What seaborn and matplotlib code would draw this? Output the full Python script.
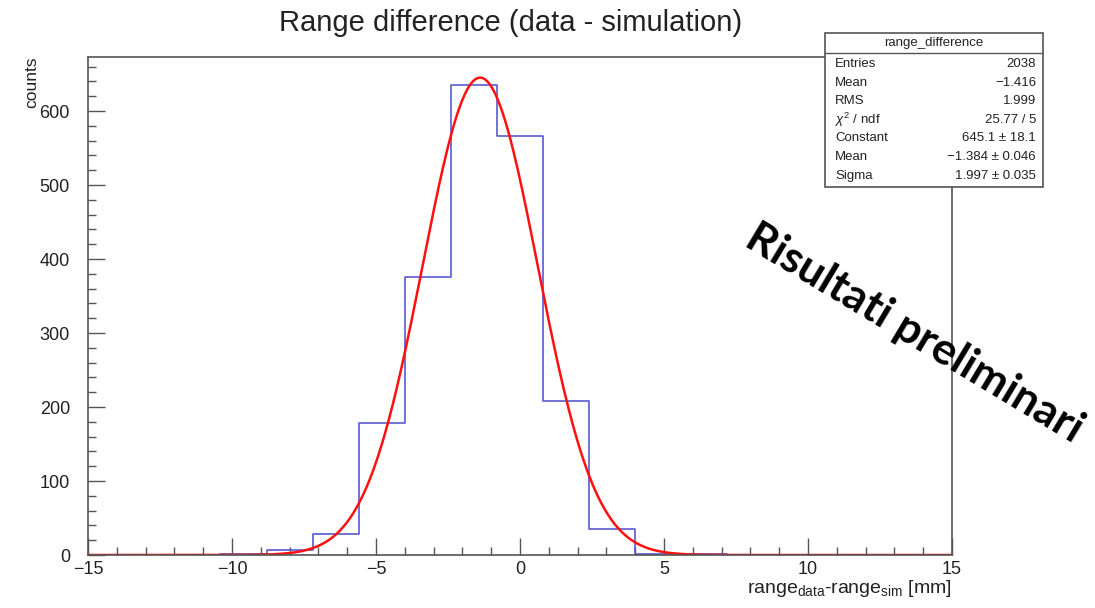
import numpy as np
import pandas as pd
import matplotlib.pyplot as plt
import seaborn as sns
from matplotlib.ticker import MultipleLocator
from matplotlib.patches import Rectangle

# histogram: 19 bins of width 1.6 from -15.2 to 15.2
bin_edges = list(np.round(np.linspace(-15.2, 15.2, 20), 2))
bin_counts = [0, 0, 0, 1, 7, 29, 179, 376, 635, 566, 208, 35, 2, 1, 0, 0, 0, 0, 0]

# gaussian fit parameters (from the stats box)
fit_const = 645.1
fit_mean = -1.384
fit_sigma = 1.997

stats_rows = [
    ("Entries", "2038"),
    ("Mean", "\u22121.416"),
    ("RMS", "1.999"),
    (r"$\chi^{2}$ / ndf", "25.77 / 5"),
    ("Constant", "645.1 \u00b1 18.1"),
    ("Mean", "\u22121.384 \u00b1 0.046"),
    ("Sigma", "1.997 \u00b1 0.035"),
]

sns.set_style("ticks")
plt.rcParams["font.family"] = ["Liberation Sans", "DejaVu Sans"]
plt.rcParams["mathtext.fontset"] = "custom"
plt.rcParams["mathtext.rm"] = "Liberation Sans"
plt.rcParams["mathtext.it"] = "Liberation Sans:italic"

centers = [(a + b) / 2 for a, b in zip(bin_edges[:-1], bin_edges[1:])]
hist_df = pd.DataFrame({"x": centers, "w": bin_counts})

fit_x = np.linspace(-15, 15, 600)
fit_df = pd.DataFrame({"x": fit_x,
                       "y": fit_const * np.exp(-0.5 * ((fit_x - fit_mean) / fit_sigma) ** 2)})

fig = plt.figure(figsize=(10.95, 6.08), dpi=100)
ax = fig.add_axes([88 / 1095, 1 - 555 / 608, (952 - 88) / 1095, (555 - 57) / 608])

sns.histplot(data=hist_df, x="x", weights="w", bins=bin_edges, element="step",
             fill=False, color="#5a5ad0", linewidth=1.2, ax=ax)
sns.lineplot(data=fit_df, x="x", y="y", color="#ff1010", linewidth=1.8, ax=ax)

ax.set_xlim(-15, 15)
ax.set_ylim(0, 673)
ax.xaxis.set_major_locator(MultipleLocator(5))
ax.xaxis.set_minor_locator(MultipleLocator(1))
ax.yaxis.set_major_locator(MultipleLocator(100))
ax.yaxis.set_minor_locator(MultipleLocator(20))
ax.tick_params(which="major", direction="in", length=12, width=1, colors="#555555",
               labelcolor="#222222", labelsize=13)
ax.tick_params(which="minor", direction="in", length=6, width=1, colors="#555555")
ax.tick_params(axis="y", which="major", pad=13)
ax.tick_params(axis="x", which="major", pad=4)
for sp in ax.spines.values():
    sp.set_color("#555555")
    sp.set_linewidth(1.2)

ax.set_xlabel(r"range$_{\mathrm{data}}$-range$_{\mathrm{sim}}$ [mm]", fontsize=14,
              color="#222222", loc="right", labelpad=0)
ax.set_ylabel("counts", fontsize=12.5, color="#222222", loc="top", labelpad=0)

fig.text(0.466, 0.962, "Range difference (data - simulation)", ha="center", va="center",
         fontsize=21, color="#222222")

# stats box
bx0, by0, bx1, by1 = 825, 33, 1043, 187
fig.patches.append(Rectangle((bx0 / 1095, 1 - by1 / 608), (bx1 - bx0) / 1095,
                             (by1 - by0) / 608, transform=fig.transFigure,
                             facecolor="white", edgecolor="#555555", linewidth=1.2, zorder=5))
fig.add_artist(plt.Line2D([bx0 / 1095, bx1 / 1095], [1 - 53 / 608, 1 - 53 / 608],
                          transform=fig.transFigure, color="#555555", linewidth=1.0, zorder=6))
fig.text((bx0 + bx1) / 2 / 1095, 1 - 43 / 608, "range_difference", ha="center",
         va="center", fontsize=9.5, color="#222222", zorder=7)
for i, (k, v) in enumerate(stats_rows):
    yy = 1 - (64 + i * 18.6) / 608
    fig.text(835 / 1095, yy, k, ha="left", va="center", fontsize=9.5, color="#222222", zorder=7)
    fig.text(1036 / 1095, yy, v, ha="right", va="center", fontsize=9.5, color="#222222", zorder=7)

# watermark
fig.text(914 / 1095, 1 - 333 / 608, "Risultati preliminari", rotation=-31,
         rotation_mode="anchor", ha="center", va="center", fontsize=32,
         fontweight="bold", family=["Lato", "DejaVu Sans"], color="black")

fig.savefig("out.png", dpi=100)
